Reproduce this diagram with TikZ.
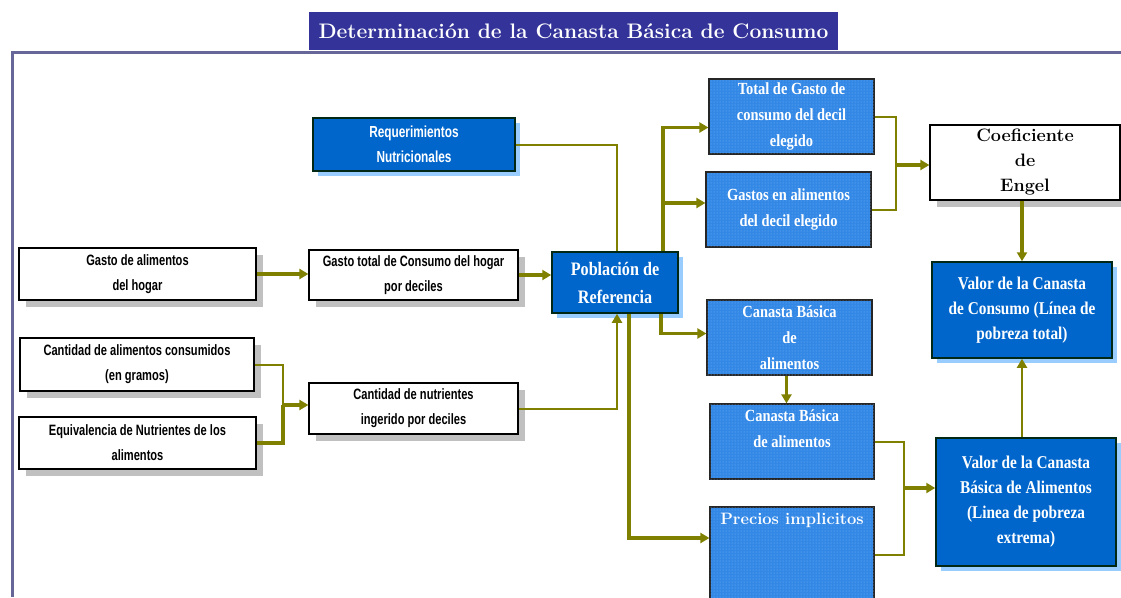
\documentclass[tikz,border=0pt]{standalone}
\usepackage{fontspec}
\usepackage{tikz}
\usetikzlibrary{arrows.meta,positioning,shadows,patterns}
\newfontfamily\condsans[FakeStretch=0.74]{Liberation Sans}
\newfontfamily\condserif[FakeStretch=0.85]{Liberation Serif}
\definecolor{linkolive}{RGB}{128,128,0}
\definecolor{boxblue}{RGB}{0,102,204}
\definecolor{dotblue}{RGB}{51,136,230}
\definecolor{dotlight}{RGB}{120,180,250}
\definecolor{edgegreen}{RGB}{0,40,20}
\definecolor{shadeblue}{RGB}{153,204,255}
\definecolor{shadegray}{RGB}{192,192,192}
\definecolor{titleblue}{RGB}{51,51,153}
\definecolor{framegray}{RGB}{102,102,153}

\begin{document}
\begin{tikzpicture}[x=1pt,y=-1pt,
  whitebox/.style={draw=black, line width=1.2pt, fill=white, inner sep=0pt, align=center,
    drop shadow={shadow xshift=7pt, shadow yshift=-7pt, fill=shadegray, opacity=1},
    font=\condsans\bfseries\fontsize{15}{25}\selectfont},
  bluebox/.style={draw=edgegreen, line width=1.5pt, fill=boxblue, text=white, inner sep=0pt, align=center,
    drop shadow={shadow xshift=5pt, shadow yshift=-5pt, fill=shadeblue, opacity=1},
    font=\condserif\bfseries\fontsize{18}{25}\selectfont},
  dotbox/.style={draw=black!85, line width=1.2pt, fill=dotblue, text=white, inner sep=0pt, align=center,
    postaction={pattern=dots, pattern color=dotlight},
    font=\condserif\bfseries\fontsize{17}{26}\selectfont},
  link/.style={draw=linkolive, line width=2pt},
  fatlink/.style={draw=linkolive, line width=3.2pt},
  tip/.style={-{Triangle[length=9pt,width=10pt]}}]
\useasboundingbox (0,0) rectangle (1121,597);

\draw[framegray, line width=3pt] (1121,52) -- (12,52) -- (12,597);
\node[fill=titleblue, text=white, minimum width=529, minimum height=38, inner sep=0pt,
  font=\bfseries\fontsize{21}{24}\selectfont] (title) at (573.5,31) {Determinación de la Canasta Básica de Consumo};

% cajas blancas de la izquierda
\node[whitebox, minimum width=237, minimum height=52] (gal) at (137.5,274) {Gasto de alimentos\\del hogar};
\node[whitebox, minimum width=209, minimum height=50] (gtot) at (413.5,275) {Gasto total de Consumo del hogar\\por deciles};
\node[whitebox, minimum width=234, minimum height=53] (cal) at (137,364.5) {Cantidad de alimentos consumidos\\(en gramos)};
\node[whitebox, minimum width=237, minimum height=52] (equ) at (137.5,443) {Equivalencia de Nutrientes de los\\alimentos};
\node[whitebox, minimum width=209, minimum height=51] (cnut) at (413.5,408.5) {Cantidad de nutrientes\\ingerido por deciles};

% cajas azules
\node[bluebox, minimum width=202, minimum height=53, font=\condsans\bfseries\fontsize{16}{25}\selectfont] (req) at (414,144.5) {Requerimientos\\Nutricionales};
\node[bluebox, minimum width=126, minimum height=61, font=\condserif\bfseries\fontsize{19}{28}\selectfont] (pob) at (615,282.5) {Población de\\Referencia};
\node[bluebox, minimum width=180, minimum height=96] (vcons) at (1022,310) {Valor de la Canasta\\de Consumo (Línea de\\pobreza total)};
\node[bluebox, minimum width=180, minimum height=128] (vbas) at (1026,502) {Valor de la Canasta\\Básica de Alimentos\\(Linea de pobreza\\extrema)};

\node[dotbox, minimum width=165, minimum height=75] (tgas) at (791.5,116.5) {Total de Gasto de\\consumo del decil\\elegido};
\node[dotbox, minimum width=165, minimum height=75] (galim) at (788.5,209.5) {Gastos en alimentos\\del decil elegido};
\node[dotbox, minimum width=165, minimum height=75] (cba1) at (789.5,337.5) {Canasta Básica\\de\\alimentos};
\node[dotbox, minimum width=164, minimum height=75] (cba2) at (792,441.5) {Canasta Básica\\de alimentos\\~};
\node[dotbox, minimum width=164, minimum height=115] (prec) at (792,564.5) {};
\node[anchor=north, text=white, inner sep=0pt, font=\bfseries\fontsize{16.5}{18}\selectfont\addfontfeature{LetterSpace=5}] (prectxt)
  at ([yshift=-6pt]prec.north) {Precios implicitos};

\node[whitebox, minimum width=190, minimum height=75, font=\bfseries\fontsize{18}{25}\selectfont] (coef) at (1025,162.5) {Coeficiente\\de\\Engel};

% conexiones
\coordinate (jn) at (283,405);
\coordinate (jE) at (896,165);
\coordinate (jS) at (904,488);
\coordinate (ptop) at ([xshift=48pt]pob.north);
\draw[fatlink, tip] (gal.east) -- (gal.east -| gtot.west);
\draw[fatlink, tip] (gtot.east) -- (gtot.east -| pob.west);
\draw[link] (cal.east) -| (jn);
\draw[fatlink] (equ.east) -| (jn);
\draw[fatlink, tip] (jn) -- (jn -| cnut.west);
\draw[link, tip] (cnut.east) -| ([xshift=2pt]pob.south);
\draw[link] (req.east) -| ([xshift=2pt]pob.north);
\draw[fatlink, tip] (ptop) |- ([yshift=-11pt]tgas.west);
\draw[fatlink, tip] (ptop |- 0,203) -- (galim.west |- 0,203);
\draw[fatlink, tip] ([xshift=46pt]pob.south) |- ([yshift=4pt]cba1.west);
\draw[fatlink, tip] ([xshift=14pt]pob.south) |- (prec.west |- 0,538);
\draw[link] (tgas.east) -| (jE);
\draw[link] (galim.east) -| (jE);
\draw[fatlink, tip] (jE) -- (jE -| coef.west);
\draw[fatlink, tip] (coef.south -| vcons.north) -- (vcons.north);
\draw[fatlink, tip] ([xshift=-3pt]cba1.south) -- ([xshift=-3pt]cba1.south |- cba2.north);
\draw[link] (cba2.east) -| (jS);
\draw[link] ([yshift=10pt]prec.east) -| (jS);
\draw[fatlink, tip] (jS) -- (jS -| vbas.west);
\draw[link, tip] (vbas.north -| vcons.south) -- (vcons.south);
\end{tikzpicture}
\end{document}
